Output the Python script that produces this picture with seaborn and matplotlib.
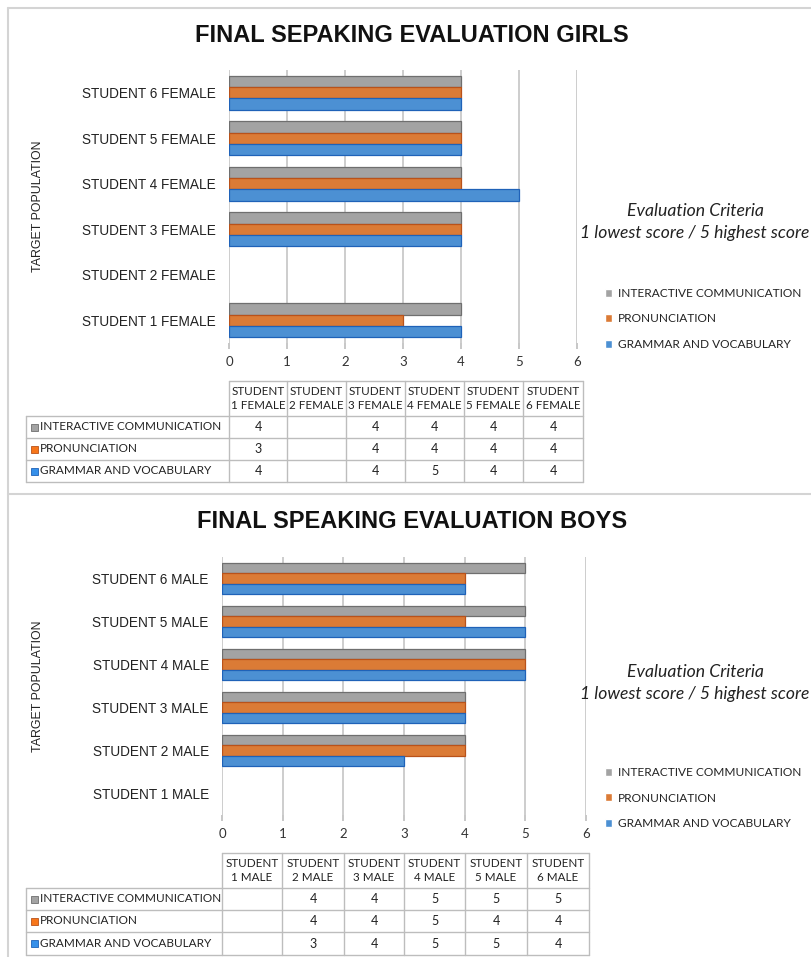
import numpy as np
import pandas as pd
import matplotlib
matplotlib.use("Agg")
import matplotlib.pyplot as plt
import seaborn as sns

# ---------------- data ----------------
criteria = ["INTERACTIVE COMMUNICATION", "PRONUNCIATION", "GRAMMAR AND VOCABULARY"]
girls_students = ["STUDENT 1 FEMALE", "STUDENT 2 FEMALE", "STUDENT 3 FEMALE",
                  "STUDENT 4 FEMALE", "STUDENT 5 FEMALE", "STUDENT 6 FEMALE"]
girls_interactive = [4, np.nan, 4, 4, 4, 4]
girls_pronunciation = [3, np.nan, 4, 4, 4, 4]
girls_grammar = [4, np.nan, 4, 5, 4, 4]
girls_headers = ["STUDENT\n1 FEMALE", "STUDENT\n2 FEMALE", "STUDENT\n3 FEMALE",
                 "STUDENT\n4 FEMALE", "STUDENT\n5 FEMALE", "STUDENT\n6 FEMALE"]

boys_students = ["STUDENT 1 MALE", "STUDENT 2 MALE", "STUDENT 3 MALE",
                 "STUDENT 4 MALE", "STUDENT 5 MALE", "STUDENT 6 MALE"]
boys_interactive = [np.nan, 4, 4, 5, 5, 5]
boys_pronunciation = [np.nan, 4, 4, 5, 4, 4]
boys_grammar = [np.nan, 3, 4, 5, 5, 4]
boys_headers = ["STUDENT\n1 MALE", "STUDENT\n2 MALE", "STUDENT\n3 MALE",
                "STUDENT\n4 MALE", "STUDENT\n5 MALE", "STUDENT\n6 MALE"]

x_ticks = [0, 1, 2, 3, 4, 5, 6]
titles = ["FINAL SEPAKING EVALUATION GIRLS", "FINAL SPEAKING EVALUATION BOYS"]

colors = ["#a3a3a3", "#f7761a", "#3590ea"]
edges = ["#6f6f6f", "#b9521a", "#1f62b8"]

sns.set_theme(style="white")
plt.rcParams['font.family'] = ['Liberation Sans', 'DejaVu Sans']

W, H = 811, 957
fig = plt.figure(figsize=(W / 100, H / 100), dpi=100)

ov = fig.add_axes([0, 0, 1, 1])
ov.set_xlim(0, W)
ov.set_ylim(H, 0)
ov.axis("off")

# panel borders
bc = "#d4d4d4"
ov.plot([8, W], [8, 8], color=bc, lw=1.5)
ov.plot([8, 8], [8, H], color=bc, lw=1.5)
ov.plot([8, W], [494, 494], color=bc, lw=1.5)

def fx(px):
    return px / W

def fy(py):
    return 1 - py / H

panels = [
    dict(students=girls_students, vals=[girls_interactive, girls_pronunciation, girls_grammar],
         headers=girls_headers, ax_px=(229, 70, 577, 343), title_y=35,
         crit_y=(211, 233), leg_y=319,
         tcols=[26, 229, 287, 346, 405, 464, 523, 583], trows=[381, 416, 438, 460, 482]),
    dict(students=boys_students, vals=[boys_interactive, boys_pronunciation, boys_grammar],
         headers=boys_headers, ax_px=(222, 557, 586, 815), title_y=522,
         crit_y=(672, 694), leg_y=798,
         tcols=[26, 222, 282, 344, 404, 465, 527, 589], trows=[853, 888, 910, 932, 955]),
]

for i, p in enumerate(panels):
    x0, y0, x1, y1 = p["ax_px"]
    ax = fig.add_axes([fx(x0), fy(y1), fx(x1) - fx(x0), (y1 - y0) / H])
    ax.patch.set_alpha(0)
    rows = []
    for c, v in zip(criteria, p["vals"]):
        for s, val in zip(p["students"], v):
            rows.append(dict(student=s, criterion=c, score=val))
    df = pd.DataFrame(rows)
    order = p["students"][::-1]
    sns.barplot(data=df, x="score", y="student", hue="criterion", order=order,
                hue_order=criteria, palette=colors, width=0.74, orient="h",
                errorbar=None, ax=ax, legend=True, zorder=3)
    for cont, ec in zip(ax.containers, edges):
        for bar in cont:
            bar.set_edgecolor(ec)
            bar.set_linewidth(0.9)
    handles, labels = ax.get_legend_handles_labels()
    ax.get_legend().remove()
    ax.set_xlim(0, 6)
    ax.set_ylim(len(order) - 0.5, -0.5)
    ax.set_xticks(x_ticks)
    ax.xaxis.grid(True, color="#c0c0c0", lw=1.1, zorder=0)
    ax.yaxis.grid(False)
    for sp in ax.spines.values():
        sp.set_visible(False)
    ax.tick_params(axis="x", length=4, color="#c0c0c0", pad=5.5, labelsize=9.5,
                   labelcolor="#333333", bottom=True)
    for t in ax.get_xticklabels():
        t.set_family(["Lato", "DejaVu Sans"])
    ax.tick_params(axis="y", length=0, pad=9.5, labelsize=9.8, labelcolor="#222222")
    ax.set_xlabel("")
    ax.set_ylabel("TARGET POPULATION", fontsize=8.9, color="#222222")
    ax.yaxis.set_label_coords((44 - x0) / (x1 - x0), 0.5)

    # title
    fig.text(fx(412), fy(p["title_y"]), titles[i], ha="center", va="center",
             fontsize=17, fontweight="bold", color="#111111")
    # criteria text
    fig.text(fx(695), fy(p["crit_y"][0]), "Evaluation Criteria", ha="center", va="center",
             fontsize=12.7, style="italic", family=["Lato", "DejaVu Sans"], color="#222222")
    fig.text(fx(695), fy(p["crit_y"][1]), "1 lowest score / 5 highest score", ha="center",
             va="center", fontsize=12.6, style="italic", family=["Lato", "DejaVu Sans"],
             color="#222222")
    # legend
    leg = fig.legend(handles, labels, loc="center left",
                     bbox_to_anchor=(fx(605), fy(p["leg_y"])), frameon=False,
                     handlelength=0.6, handleheight=0.6, handletextpad=0.5,
                     labelspacing=1.22, borderpad=0, borderaxespad=0,
                     prop=dict(family=["Lato", "DejaVu Sans"], size=8.6))
    for t in leg.get_texts():
        t.set_color("#222222")

    # data table
    tc, tr = p["tcols"], p["trows"]
    lc = "#bdbdbd"
    ov.plot([tc[1], tc[-1]], [tr[0], tr[0]], color=lc, lw=1)
    for r in tr[1:]:
        ov.plot([tc[0], tc[-1]], [r, r], color=lc, lw=1)
    ov.plot([tc[0], tc[0]], [tr[1], tr[-1]], color=lc, lw=1)
    for c in tc[1:]:
        ov.plot([c, c], [tr[0], tr[-1]], color=lc, lw=1)
    for j, hdr in enumerate(p["headers"]):
        ov.text((tc[j + 1] + tc[j + 2]) / 2, (tr[0] + tr[1]) / 2, hdr, ha="center",
                va="center", fontsize=8.4, family=["Lato", "DejaVu Sans"], color="#222222",
                linespacing=1.25)
    for k, (c, v) in enumerate(zip(criteria, p["vals"])):
        yc = (tr[k + 1] + tr[k + 2]) / 2
        ov.add_patch(plt.Rectangle((tc[0] + 5, yc - 3.5), 7, 7, facecolor=colors[k],
                                   edgecolor=edges[k], lw=0.6))
        ov.text(tc[0] + 14, yc, c, ha="left", va="center", fontsize=8.5,
                family=["Lato", "DejaVu Sans"], color="#222222")
        for j, val in enumerate(v):
            txt = "" if pd.isna(val) else str(int(val))
            ov.text((tc[j + 1] + tc[j + 2]) / 2, yc, txt, ha="center", va="center",
                    fontsize=9, family=["Lato", "DejaVu Sans"], color="#222222")

fig.savefig("out.png", dpi=100, facecolor="white")
